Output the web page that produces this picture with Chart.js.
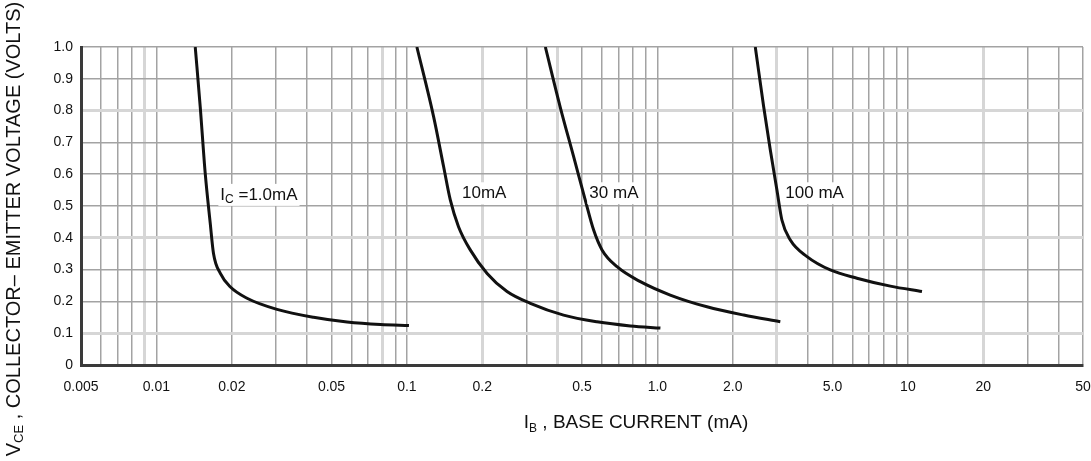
<!DOCTYPE html>
<html>
<head>
<meta charset="utf-8">
<script src="https://cdn.jsdelivr.net/npm/chart.js@4/dist/chart.umd.min.js"></script>
<style>
  html, body { margin: 0; padding: 0; background: #ffffff; }
  #wrap { width: 1091px; height: 461px; }
</style>
</head>
<body>
<div id="wrap"><canvas id="c" width="1091" height="461"></canvas></div>
<script>
// ---- Data (IB in mA, VCE in volts) ----
const ib_1mA   = [0.01429, 0.01496, 0.01566, 0.0164, 0.0169, 0.0180, 0.0197, 0.0230, 0.0303, 0.0424, 0.0577, 0.0784, 0.1019];
const vce_1mA  = [1.000,   0.812,   0.603,   0.446,  0.351,  0.288,  0.246,  0.210,  0.175,  0.150,  0.135,  0.127,  0.124];

const ib_10mA  = [0.1096, 0.1278, 0.1401, 0.149, 0.1607, 0.179, 0.209, 0.251, 0.311, 0.422, 0.574, 0.780, 1.028];
const vce_10mA = [1.000,  0.781,  0.624,  0.519, 0.435,  0.362, 0.288, 0.231, 0.194, 0.157, 0.136, 0.123, 0.116];

const ib_30mA  = [0.357, 0.409, 0.463, 0.515, 0.556, 0.601, 0.690, 0.855, 1.125, 1.577, 2.21, 3.095];
const vce_30mA = [1.000, 0.812, 0.655, 0.519, 0.425, 0.362, 0.309, 0.262, 0.220, 0.183, 0.157, 0.136];

const ib_100mA  = [2.459, 2.656, 2.823, 3.00, 3.14, 3.393, 3.956, 4.90, 6.26, 8.51, 11.38];
const vce_100mA = [1.000, 0.812, 0.676, 0.55, 0.456, 0.393, 0.341, 0.299, 0.273, 0.248, 0.231];

// ---- Axis ticks ----
const xGridValues = [0.005,0.006,0.007,0.008,0.009,
                     0.01,0.02,0.03,0.04,0.05,0.06,0.07,0.08,0.09,
                     0.1,0.2,0.3,0.4,0.5,0.6,0.7,0.8,0.9,
                     1,2,3,4,5,6,7,8,9,
                     10,20,30,40,50];
const xLabelValues = [0.005, 0.01, 0.02, 0.05, 0.1, 0.2, 0.5, 1, 2, 5, 10, 20, 50];
const xLabelTexts  = ['0.005','0.01','0.02','0.05','0.1','0.2','0.5','1.0','2.0','5.0','10','20','50'];
const xLightGrid   = [0.009, 0.08, 0.2, 0.4, 3, 20];

const yTickValues = [0,0.1,0.2,0.3,0.4,0.5,0.6,0.7,0.8,0.9,1.0];
const yTickTexts  = ['0','0.1','0.2','0.3','0.4','0.5','0.6','0.7','0.8','0.9','1.0'];
const yLightGrid  = [0.1, 0.4, 0.8];

// ---- Curve labels (anchor in data units) ----
const curveLabelMain = ['I', '', '', ''];
const curveLabelSub  = ['C', '', '', ''];
const curveLabelRest = [' =1.0mA', '10mA', '30 mA', '100 mA'];
const curveLabelX    = [0.0180, 0.166, 0.535, 3.24];
const curveLabelY    = [0.535, 0.540, 0.540, 0.540];

const FONT = '"Liberation Sans", Arial, sans-serif';

function isIn(list, v) { return list.some(w => Math.abs(w - v) < 1e-9 || (v > 0 && w > 0 && Math.abs(Math.log10(w) - Math.log10(v)) < 1e-6)); }

function mkSeries(xs, ys) { return xs.map((x, i) => ({ x: x, y: ys[i] })); }

const seriesList = [
  mkSeries(ib_1mA, vce_1mA),
  mkSeries(ib_10mA, vce_10mA),
  mkSeries(ib_30mA, vce_30mA),
  mkSeries(ib_100mA, vce_100mA)
];

function measureParts(ctx, parts) {
  let w = 0;
  parts.forEach(p => { ctx.font = (p.sub ? p.subSize : p.size) + 'px ' + FONT; w += ctx.measureText(p.t).width; });
  return w;
}

function drawSubText(ctx, parts, x, y, align) {
  const total = measureParts(ctx, parts);
  let cx = align === 'center' ? x - total / 2 : x;
  parts.forEach(p => {
    ctx.font = (p.sub ? p.subSize : p.size) + 'px ' + FONT;
    ctx.fillText(p.t, cx, y + (p.sub ? p.size * 0.28 : 0));
    cx += ctx.measureText(p.t).width;
  });
  return total;
}

const overlayPlugin = {
  id: 'overlay',
  afterDatasetsDraw(chart) {
    const ctx = chart.ctx;
    const xs = chart.scales.x, ys = chart.scales.y;
    ctx.save();
    ctx.textBaseline = 'middle';
    ctx.textAlign = 'left';
    for (let i = 0; i < curveLabelRest.length; i++) {
      const px = xs.getPixelForValue(curveLabelX[i]);
      const py = ys.getPixelForValue(curveLabelY[i]);
      const parts = [];
      if (curveLabelMain[i]) parts.push({ t: curveLabelMain[i], size: 17, subSize: 12 });
      if (curveLabelSub[i]) parts.push({ t: curveLabelSub[i], sub: true, size: 17, subSize: 12 });
      parts.push({ t: curveLabelRest[i], size: 17, subSize: 12 });
      const w = measureParts(ctx, parts);
      ctx.fillStyle = '#ffffff';
      ctx.fillRect(px - 2, py - 11, w + 4, 22);
      ctx.fillStyle = '#111111';
      drawSubText(ctx, parts, px, py, 'left');
    }
    ctx.restore();
  },
  afterDraw(chart) {
    const ctx = chart.ctx;
    ctx.save();
    ctx.fillStyle = '#111111';
    ctx.textBaseline = 'middle';
    ctx.textAlign = 'left';
    drawSubText(ctx, [
      { t: 'I', size: 19, subSize: 12 },
      { t: 'B', sub: true, size: 19, subSize: 12 },
      { t: ' , BASE CURRENT (mA)', size: 19, subSize: 12 }
    ], 636, 423, 'center');
    ctx.translate(14, 229);
    ctx.rotate(-Math.PI / 2);
    drawSubText(ctx, [
      { t: 'V', size: 20, subSize: 13 },
      { t: 'CE', sub: true, size: 20, subSize: 13 },
      { t: ' , COLLECTOR\u2013 EMITTER VOLTAGE (VOLTS)', size: 20, subSize: 13 }
    ], 0, 0, 'center');
    ctx.restore();
  }
};

new Chart(document.getElementById('c'), {
  type: 'line',
  data: {
    datasets: seriesList.map(s => ({
      data: s,
      borderColor: '#111111',
      borderWidth: 3,
      pointRadius: 0,
      fill: false,
      cubicInterpolationMode: 'monotone'
    }))
  },
  options: {
    responsive: false,
    animation: false,
    events: [],
    layout: { padding: { left: 0, right: 8, top: 47, bottom: 0 } },
    plugins: { legend: { display: false }, tooltip: { enabled: false }, title: { display: false } },
    scales: {
      x: {
        type: 'logarithmic',
        min: 0.005,
        max: 50,
        afterBuildTicks(scale) { scale.ticks = xGridValues.map(v => ({ value: v })); },
        afterFit(scale) { scale.height = 96; scale.paddingLeft = 0; scale.paddingRight = 0; },
        ticks: {
          autoSkip: false,
          maxRotation: 0,
          padding: 14,
          color: '#111111',
          font: { family: FONT, size: 14 },
          callback(value) {
            for (let i = 0; i < xLabelValues.length; i++) {
              if (Math.abs(Math.log10(xLabelValues[i]) - Math.log10(value)) < 1e-6) return xLabelTexts[i];
            }
            return '';
          }
        },
        grid: {
          drawTicks: false,
          color: ctx => (ctx.tick && isIn(xLightGrid, ctx.tick.value)) ? '#d6d6d6' : '#a3a3a3',
          lineWidth: ctx => (ctx.tick && isIn(xLightGrid, ctx.tick.value)) ? 3 : 1.5
        },
        border: { display: true, color: '#3a3a3a', width: 3 }
      },
      y: {
        type: 'linear',
        min: 0,
        max: 1,
        afterBuildTicks(scale) { scale.ticks = yTickValues.map(v => ({ value: v })); },
        afterFit(scale) { scale.width = 81; scale.paddingTop = 0; scale.paddingBottom = 0; },
        ticks: {
          autoSkip: false,
          padding: 8,
          color: '#111111',
          font: { family: FONT, size: 14 },
          callback(value) {
            for (let i = 0; i < yTickValues.length; i++) {
              if (Math.abs(yTickValues[i] - value) < 1e-6) return yTickTexts[i];
            }
            return '';
          }
        },
        grid: {
          drawTicks: false,
          color: ctx => (ctx.tick && isIn(yLightGrid, ctx.tick.value)) ? '#d6d6d6' : '#a3a3a3',
          lineWidth: ctx => (ctx.tick && isIn(yLightGrid, ctx.tick.value)) ? 3 : 1.5
        },
        border: { display: true, color: '#3a3a3a', width: 3 }
      }
    }
  },
  plugins: [overlayPlugin]
});
</script>
</body>
</html>
